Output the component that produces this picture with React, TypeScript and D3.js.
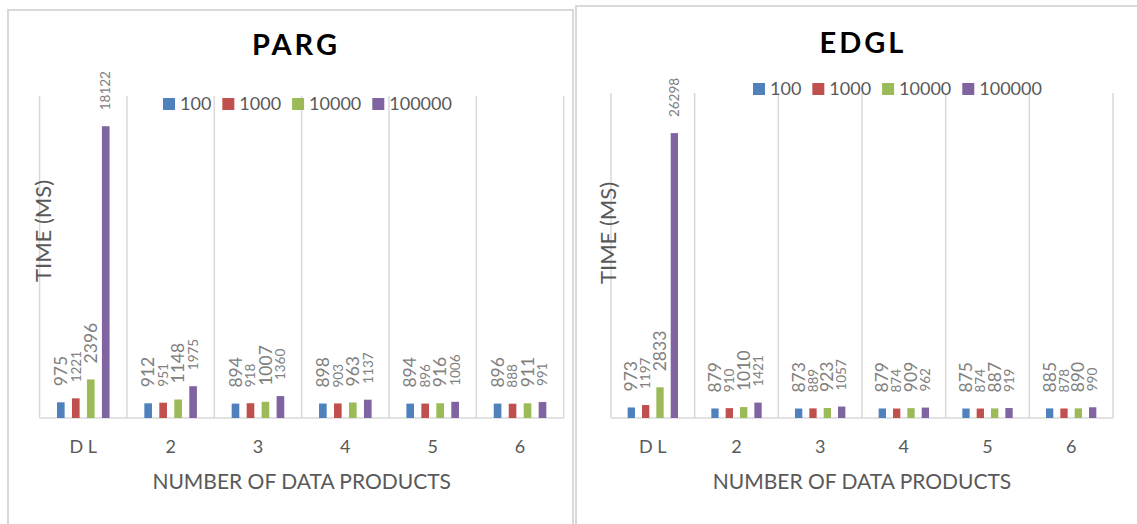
import * as d3 from 'd3';
import React, { useEffect, useRef } from 'react';

// categories and series
const categories = ['D L', '2', '3', '4', '5', '6'];
const seriesNames = ['100', '1000', '10000', '100000'];

// PARG timings (ms)
const parg100 = [975, 912, 894, 898, 894, 896];
const parg1000 = [1221, 951, 918, 903, 896, 888];
const parg10000 = [2396, 1148, 1007, 963, 916, 911];
const parg100000 = [18122, 1975, 1360, 1137, 1006, 991];

// EDGL timings (ms)
const edgl100 = [973, 879, 873, 879, 875, 885];
const edgl1000 = [1197, 910, 889, 874, 874, 878];
const edgl10000 = [2833, 1010, 923, 909, 887, 890];
const edgl100000 = [26298, 1421, 1057, 962, 919, 990];

// value axis maximum of each chart
const pargAxisMax = 20000;
const edglAxisMax = 30000;

const colors = ['#4F81BD', '#C0504D', '#9BBB59', '#8064A2'];
const labelSizes = [17.5, 13.5, 17.5, 13.5];
const FONT = 'Lato, "Open Sans", sans-serif';
const GRID = '#d9d9d9';
const TEXT = '#595959';

interface Panel {
    title: string;
    series: number[][];
    yMax: number;
    frame: [number, number, number, number];
    left: number;
    right: number;
    top: number;
    bottom: number;
    titleX: number;
    titleY: number;
    legendX: number;
    legendY: number;
    yTitleX: number;
    yTitleY: number;
}

const panels: Panel[] = [
    {
        title: 'PARG',
        series: [parg100, parg1000, parg10000, parg100000],
        yMax: pargAxisMax,
        frame: [8, 10, 565, 540],
        left: 39.6, right: 563.7, top: 96, bottom: 418,
        titleX: 296, titleY: 55,
        legendX: 163, legendY: 104,
        yTitleX: 43, yTitleY: 231,
    },
    {
        title: 'EDGL',
        series: [edgl100, edgl1000, edgl10000, edgl100000],
        yMax: edglAxisMax,
        frame: [576, 6, 580, 540],
        left: 611, right: 1113, top: 93, bottom: 418,
        titleX: 863, titleY: 53,
        legendX: 753, legendY: 89,
        yTitleX: 608, yTitleY: 233,
    },
];

function drawPanel(svg: d3.Selection<SVGSVGElement, unknown, null, undefined>, p: Panel) {
    const g = svg.append('g');

    g.append('rect')
        .attr('x', p.frame[0]).attr('y', p.frame[1])
        .attr('width', p.frame[2]).attr('height', p.frame[3])
        .attr('fill', '#fff').attr('stroke', GRID).attr('stroke-width', 2);

    const x0 = d3.scaleBand<string>().domain(categories).range([p.left, p.right]).padding(0);
    const bw = x0.bandwidth();
    const x1 = d3.scaleBand<string>().domain(seriesNames)
        .range([bw * 0.157, bw * 0.843])
        .paddingInner(0.49).paddingOuter(0.245);
    const y = d3.scaleLinear().domain([0, p.yMax]).range([p.bottom, p.top]);

    // vertical gridlines on category boundaries
    d3.range(categories.length + 1).forEach(i => {
        const gx = p.left + i * x0.step();
        g.append('line')
            .attr('x1', gx).attr('x2', gx)
            .attr('y1', y(p.yMax)).attr('y2', y(0))
            .attr('stroke', GRID).attr('stroke-width', 1.5);
    });

    // baseline
    g.append('line')
        .attr('x1', p.left).attr('x2', p.right)
        .attr('y1', y(0)).attr('y2', y(0))
        .attr('stroke', GRID).attr('stroke-width', 1.5);

    // y axis title (drawn over first gridline like the original)
    g.append('text')
        .attr('transform', `translate(${p.yTitleX},${p.yTitleY}) rotate(-90)`)
        .attr('text-anchor', 'middle').attr('dy', '0.35em')
        .attr('font-family', FONT).attr('font-size', 22).attr('fill', TEXT)
        .text('TIME (MS)');

    // bars + rotated value labels
    p.series.forEach((vals, si) => {
        const name = seriesNames[si];
        g.selectAll(null)
            .data(vals)
            .enter()
            .append('rect')
            .attr('x', (_, i) => (x0(categories[i]) as number) + (x1(name) as number))
            .attr('y', d => y(d))
            .attr('width', x1.bandwidth())
            .attr('height', d => y(0) - y(d))
            .attr('fill', colors[si]);

        g.selectAll(null)
            .data(vals)
            .enter()
            .append('text')
            .attr('transform', (d, i) => {
                const cx = (x0(categories[i]) as number) + (x1(name) as number) + x1.bandwidth() / 2;
                return `translate(${cx},${y(d) - 16}) rotate(-90)`;
            })
            .attr('dy', '0.35em')
            .attr('font-family', FONT)
            .attr('font-size', labelSizes[si])
            .attr('fill', '#808080')
            .text(d => String(d));
    });

    // category labels
    g.selectAll(null)
        .data(categories)
        .enter()
        .append('text')
        .attr('x', d => (x0(d) as number) + bw / 2)
        .attr('y', 452.5)
        .attr('text-anchor', 'middle')
        .attr('font-family', FONT).attr('font-size', 18).attr('fill', TEXT)
        .text(d => d);

    // x axis title
    g.append('text')
        .attr('x', (p.left + p.right) / 2).attr('y', 489)
        .attr('text-anchor', 'middle')
        .attr('font-family', FONT).attr('font-size', 21).attr('fill', TEXT)
        .text('NUMBER OF DATA PRODUCTS');

    // chart title
    g.append('text')
        .attr('x', p.titleX).attr('y', p.titleY)
        .attr('text-anchor', 'middle')
        .attr('font-family', FONT).attr('font-size', 29).attr('font-weight', 700)
        .attr('letter-spacing', 3).attr('fill', '#000')
        .text(p.title);

    // legend
    let lx = p.legendX;
    seriesNames.forEach((name, si) => {
        g.append('rect')
            .attr('x', lx).attr('y', p.legendY - 6)
            .attr('width', 12).attr('height', 12)
            .attr('fill', colors[si]);
        const t = g.append('text')
            .attr('x', lx + 17).attr('y', p.legendY).attr('dy', '0.36em')
            .attr('font-family', FONT).attr('font-size', 18).attr('fill', TEXT)
            .text(name);
        const w = (t.node() as SVGTextElement).getComputedTextLength();
        lx += 17 + w + 11;
    });
}

const App: React.FC = () => {
    const svgRef = useRef<SVGSVGElement | null>(null);

    useEffect(() => {
        const svg = d3.select(svgRef.current as SVGSVGElement);
        svg.selectAll('*').remove();
        svg.append('rect').attr('width', 1137).attr('height', 524).attr('fill', '#fff');
        panels.forEach(p => drawPanel(svg, p));
    }, []);

    return (
        <svg
            ref={svgRef}
            width={1137}
            height={524}
            style={{ position: 'absolute', left: 0, top: 0, display: 'block', overflow: 'hidden' }}
        />
    );
};

export default App;
